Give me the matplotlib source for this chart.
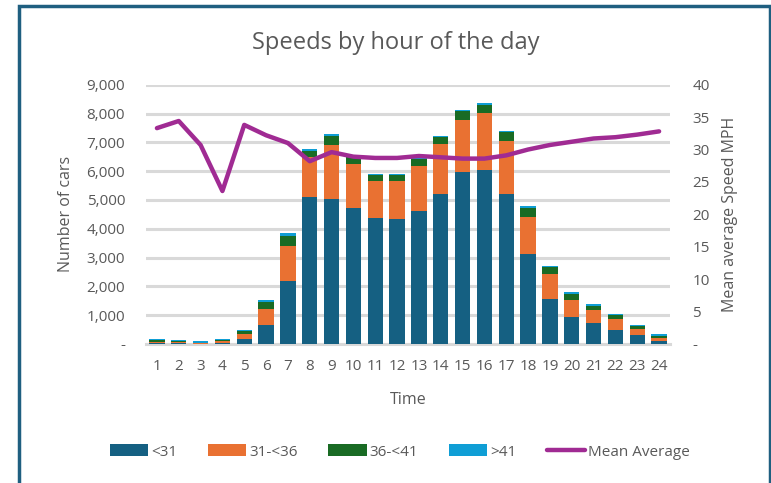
import matplotlib
matplotlib.use("Agg")
import matplotlib.pyplot as plt
from matplotlib.patches import Rectangle
from matplotlib.ticker import FuncFormatter

plt.rcParams['font.family'] = ['Open Sans', 'DejaVu Sans']

hours = list(range(1, 25))
under31 = [40, 20, 10, 40, 160, 660, 2180, 5100, 5040, 4710, 4390, 4340,
           4630, 5210, 5970, 6040, 5210, 3120, 1560, 950, 730, 490, 300, 120]
s31_36 = [40, 40, 30, 50, 175, 545, 1235, 1380, 1870, 1540, 1280, 1330,
          1550, 1735, 1810, 1980, 1840, 1300, 870, 580, 440, 390, 230, 100]
s36_41 = [50, 40, 0, 50, 115, 245, 345, 230, 325, 230, 185, 185,
          230, 245, 300, 290, 310, 310, 245, 195, 140, 125, 95, 60]
over41 = [30, 30, 50, 30, 45, 80, 85, 50, 45, 50, 45, 45,
          50, 45, 35, 70, 45, 45, 45, 70, 70, 45, 35, 55]
mean_speed = [33.3, 34.4, 30.7, 23.6, 33.8, 32.2, 31.0, 28.2, 29.6, 28.9,
              28.7, 28.7, 29.0, 28.8, 28.6, 28.6, 29.1, 30.0, 30.7, 31.2,
              31.7, 31.9, 32.3, 32.8]

series = [("<31", under31, "#156082"), ("31-<36", s31_36, "#e97132"),
          ("36-<41", s36_41, "#196b24"), (">41", over41, "#0f9ed5")]

fig = plt.figure(figsize=(7.71, 4.83), dpi=100)
ax = fig.add_axes([146/771, 1-344/483, (670-146)/771, (344-84.7)/483])

gray = "#595959"
bottom = [0]*24
handles = []
for name, vals, col in series:
    b = ax.bar(hours, vals, bottom=bottom, width=0.7, color=col, label=name, zorder=3)
    handles.append(b)
    bottom = [a + v for a, v in zip(bottom, vals)]

ax.set_xlim(0.5, 24.5)
ax.set_ylim(0, 9000)
ax.set_yticks(range(0, 9001, 1000))
ax.yaxis.set_major_formatter(FuncFormatter(lambda v, p: "-" if v == 0 else f"{int(v):,}"))
ax.set_xticks(hours)
ax.grid(axis='y', color="#d9d9d9", linewidth=2.2, zorder=0)
ax.set_axisbelow(True)
for s in ['top', 'right', 'left']:
    ax.spines[s].set_visible(False)
ax.spines['bottom'].set_color("#d9d9d9")
ax.spines['bottom'].set_linewidth(2.2)
ax.tick_params(axis='both', length=0, labelsize=11, labelcolor=gray)
ax.tick_params(axis='y', pad=15)
ax.tick_params(axis='x', pad=11)
ax.set_xlabel("Time", fontsize=11.5, color=gray, labelpad=13)
ax.set_ylabel("Number of cars", fontsize=11.5, color=gray, labelpad=9)

ax2 = ax.twinx()
ln, = ax2.plot(hours, mean_speed, color="#a02b93", linewidth=3.2, label="Mean Average",
               solid_capstyle='round', solid_joinstyle='round', zorder=5)
ax2.set_ylim(0, 40)
ax2.set_yticks(range(0, 41, 5))
ax2.yaxis.set_major_formatter(FuncFormatter(lambda v, p: "-" if v == 0 else f"{int(v)}"))
for s in ax2.spines.values():
    s.set_visible(False)
ax2.tick_params(axis='y', length=0, labelsize=11, labelcolor=gray, pad=16)
ax2.set_ylabel("Mean average Speed MPH", fontsize=11.5, color=gray, labelpad=9)

fig.text(396/771, 1-43/483, "Speeds by hour of the day", ha='center', va='center',
         fontsize=17, color=gray)

fig.legend(handles + [ln], ["<31", "31-<36", "36-<41", ">41", "Mean Average"],
           loc='center', bbox_to_anchor=(400/771, 1-452/483), ncol=5, frameon=False,
           fontsize=11, labelcolor=gray, handlelength=2.5, handleheight=0.8,
           columnspacing=2.0, handletextpad=0.2)

fig.patches.append(Rectangle((19/771, -0.01), (770-19)/771, 1-6/483+0.01,
                             transform=fig.transFigure, fill=False,
                             edgecolor="#1f5f80", linewidth=2.5))

fig.savefig("out.png", dpi=100)
